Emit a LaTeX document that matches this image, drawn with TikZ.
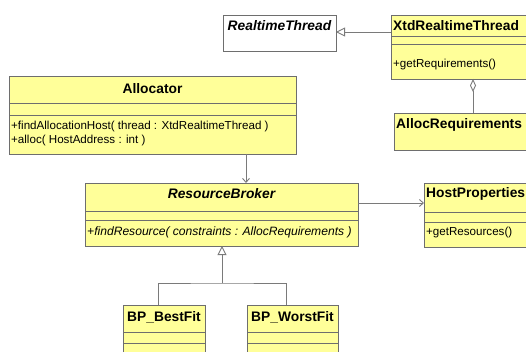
\documentclass[tikz,border=0pt]{standalone}
\usepackage{fontspec}
\setmainfont{Liberation Sans}
\usetikzlibrary{arrows.meta}
\definecolor{umlyellow}{HTML}{FFFF99}
\definecolor{umlline}{HTML}{7A7A7A}
\definecolor{umlborder}{HTML}{6E6E6E}
\tikzset{
  classbox/.style={draw=umlborder, line width=0.8pt, fill=umlyellow, rectangle, inner sep=0pt, outer sep=0pt, anchor=north west},
  whitebox/.style={classbox, fill=white},
  sepline/.style={draw=umlborder, line width=0.7pt},
  ctitle/.style={font=\bfseries\fontsize{13.8}{16}\selectfont, inner sep=0pt},
  ctitleit/.style={font=\bfseries\itshape\fontsize{13.8}{16}\selectfont, inner sep=0pt},
  member/.style={font=\fontsize{11.6}{13}\selectfont, inner sep=0pt, anchor=west},
  memberit/.style={member, font=\itshape\fontsize{12.1}{13}\selectfont},
  conn/.style={draw=umlline, line width=0.9pt},
  genarrow/.style={conn, -{Triangle[open, fill=white, length=9pt, width=9pt]}},
  deparrow/.style={conn, -{Straight Barb[length=4pt, width=7pt]}},
  aggline/.style={conn, -{Diamond[open, fill=white, length=13pt, width=6pt]}}
}
\begin{document}
\begin{tikzpicture}[x=1pt, y=1pt]
\useasboundingbox (0,0) rectangle (526,-352);
\clip (0,0) rectangle (526,-352);
\fill[white] (0,0) rectangle (526,-352);

% RealtimeThread
\node[whitebox, minimum width=113pt, minimum height=36pt] (rt) at (223,-15) {};
\node[ctitleit] (rtt) at ([yshift=-11pt]rt.north) {RealtimeThread};

% XtdRealtimeThread
\node[classbox, minimum width=190pt, minimum height=64pt] (xtd) at (391,-15) {};
\draw[sepline] ([yshift=-21.5pt]xtd.north west) -- ([yshift=-21.5pt]xtd.north east);
\draw[sepline] ([yshift=-29.5pt]xtd.north west) -- ([yshift=-29.5pt]xtd.north east);
\node[ctitle, anchor=west] (xtdt) at ([xshift=2pt, yshift=-11pt]xtd.north west) {XtdRealtimeThread};
\node[member] (xtdm) at ([xshift=2pt, yshift=-50pt]xtd.north west) {+getRequirements()};

% AllocRequirements
\node[classbox, minimum width=190pt, minimum height=37pt] (areq) at (394,-113) {};
\node[ctitle, anchor=west] (areqt) at ([xshift=2pt, yshift=-12pt]areq.north west) {AllocRequirements};

% Allocator
\node[classbox, minimum width=287pt, minimum height=78pt] (alloc) at (9,-76) {};
\draw[sepline] ([yshift=-27pt]alloc.north west) -- ([yshift=-27pt]alloc.north east);
\draw[sepline] ([yshift=-39pt]alloc.north west) -- ([yshift=-39pt]alloc.north east);
\node[ctitle] (alloct) at ([yshift=-12.5pt]alloc.north) {Allocator};
\node[member] (allocm1) at ([xshift=2pt, yshift=-51pt]alloc.north west) {+findAllocationHost( thread : XtdRealtimeThread )};
\node[member] (allocm2) at ([xshift=2pt, yshift=-64pt]alloc.north west) {+alloc( HostAddress : int )};

% ResourceBroker
\node[classbox, minimum width=273pt, minimum height=63pt] (rb) at (85,-183) {};
\draw[sepline] ([yshift=-28pt]rb.north west) -- ([yshift=-28pt]rb.north east);
\draw[sepline] ([yshift=-37pt]rb.north west) -- ([yshift=-37pt]rb.north east);
\node[ctitleit] (rbt) at ([yshift=-11pt]rb.north) {ResourceBroker};
\node[memberit] (rbm) at ([xshift=2pt, yshift=-49pt]rb.north west) {+findResource( constraints : AllocRequirements )};

% HostProperties
\node[classbox, minimum width=150pt, minimum height=64pt] (hp) at (424,-183) {};
\draw[sepline] ([yshift=-29pt]hp.north west) -- ([yshift=-29pt]hp.north east);
\draw[sepline] ([yshift=-39pt]hp.north west) -- ([yshift=-39pt]hp.north east);
\node[ctitle, anchor=west] (hpt) at ([xshift=2pt, yshift=-11pt]hp.north west) {HostProperties};
\node[member] (hpm) at ([xshift=2pt, yshift=-50pt]hp.north west) {+getResources()};

% BP_BestFit
\node[classbox, minimum width=82pt, minimum height=60pt] (bf) at (123,-305) {};
\draw[sepline] ([yshift=-27pt]bf.north west) -- ([yshift=-27pt]bf.north east);
\draw[sepline] ([yshift=-38pt]bf.north west) -- ([yshift=-38pt]bf.north east);
\node[ctitle] (bft) at ([yshift=-12pt]bf.north) {BP\_BestFit};

% BP_WorstFit
\node[classbox, minimum width=91pt, minimum height=60pt] (bw) at (247,-305) {};
\draw[sepline] ([yshift=-27pt]bw.north west) -- ([yshift=-27pt]bw.north east);
\draw[sepline] ([yshift=-38pt]bw.north west) -- ([yshift=-38pt]bw.north east);
\node[ctitle] (bwt) at ([yshift=-12pt]bw.north) {BP\_WorstFit};

% connectors
\draw[genarrow] ([yshift=-17pt]xtd.north west) -- ([yshift=-17pt]rt.north east);
\draw[aggline] ([xshift=79pt]areq.north west) -- ([xshift=82pt]xtd.south west);
\draw[deparrow] ([xshift=237pt]alloc.south west) -- ([xshift=161pt]rb.north west);
\draw[deparrow] ([yshift=-20pt]rb.north east) -- ([yshift=-20pt]hp.north west);
\coordinate (junc) at ([xshift=137pt, yshift=-37pt]rb.south west);
\draw[conn] ([xshift=35pt]bf.north west) |- (junc) -| ([xshift=39pt]bw.north west);
\draw[genarrow] (junc) -- ([xshift=137pt]rb.south west);
\end{tikzpicture}
\end{document}
